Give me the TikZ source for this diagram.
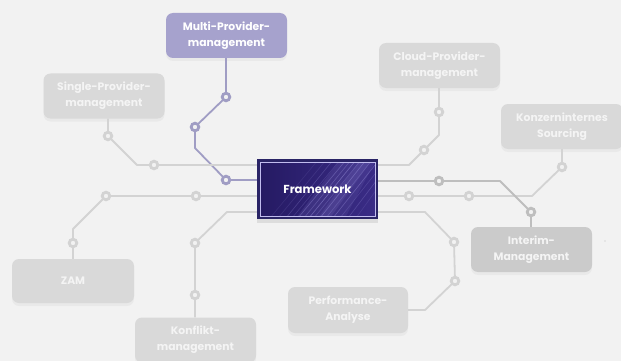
\documentclass[tikz,border=0pt]{standalone}
\usepackage{fontspec}
\setmainfont{Poppins}[BoldFont={Poppins Bold}]
\usetikzlibrary{shadows}
\definecolor{bg}{HTML}{F2F2F2}
\definecolor{grayline}{HTML}{D3D3D3}
\definecolor{graybox}{HTML}{D9D9D9}
\definecolor{graytext}{HTML}{F4F4F4}
\definecolor{darkline}{HTML}{BEBEBE}
\definecolor{darkbox}{HTML}{CBCBCB}
\definecolor{purpline}{HTML}{A09DC4}
\definecolor{purpbox}{HTML}{A6A2CD}
\definecolor{fwborder}{HTML}{2A2466}
\definecolor{fwleft}{HTML}{251A63}
\definecolor{fwright}{HTML}{3A2C86}
\definecolor{streak}{HTML}{A79FE8}
\tikzset{
  box/.style={rounded corners=7pt, minimum width=121pt, minimum height=45pt,
    fill=graybox, text=graytext, font=\bfseries\fontsize{10.8}{16}\selectfont,
    align=center, inner sep=0pt,
    drop shadow={opacity=0.07, shadow xshift=0pt, shadow yshift=-3pt}},
  conn/.style={line width=1.8pt, draw=grayline, line join=round},
  dot/.style={circle, draw=grayline, line width=2.8pt, fill=bg,
    minimum size=7.6pt, inner sep=0pt},
  fwtext/.style={text=white, font=\bfseries\fontsize{11.6}{13}\selectfont,
    minimum width=121pt, minimum height=60pt, inner sep=0pt},
}
\begin{document}
\begin{tikzpicture}[x=1pt,y=-1pt]
\fill[bg] (0,0) rectangle (621,361);
\useasboundingbox (0,0) rectangle (621,361);

% boxes
\node[box, fill=purpbox, text=white] (multi) at (226.5,35.5) {Multi-Provider-\\management};
\node[box] (single) at (104,96) {Single-Provider-\\management};
\node[box] (cloud) at (439.5,65.5) {Cloud-Provider-\\management};
\node[box, minimum width=122pt] (konz) at (562,126.5) {Konzerninternes\\Sourcing};
\node[box, fill=darkbox] (interim) at (531.5,249.5) {Interim-\\Management};
\node[box, minimum width=120pt, minimum height=46pt] (perf) at (348,310) {Performance-\\Analyse};
\node[box, minimum width=122pt, minimum height=44pt] (zam) at (73,281) {ZAM};
\node[box] (konf) at (195.5,340) {Konflikt-\\management};

% framework background
\fill[fwborder, drop shadow={opacity=0.18, shadow xshift=0pt, shadow yshift=-4pt}] (257,159) rectangle (378,219);
\begin{scope}
  \clip (260,162) rectangle (375,216);
  \shade[left color=fwleft, right color=fwright] (260,162) rectangle (375,216);
  \foreach \a/\b/\o in {270/318/0.12, 278/326/0.15, 286/333/0.25, 292/340/0.2, 298/346/0.35,
      304/351/0.3, 309/356/0.45, 314/361/0.25, 320/366/0.4, 326/372/0.25, 333/379/0.35,
      340/386/0.2, 348/392/0.25, 356/398/0.15}
    \draw[streak, opacity=\o, line width=0.6pt] (\a,218) -- (\b,160);
  \fill[streak, opacity=0.12] (296,218) -- (340,160) -- (372,160) -- (330,218) -- cycle;
  \fill[streak, opacity=0.10] (318,218) -- (360,160) -- (376,160) -- (345,218) -- cycle;
\end{scope}
\draw[streak!70!white, line width=0.8pt] (260,162) rectangle (375,216);
\node[fwtext] (fw) at (317.5,189) {Framework};

% connector points
\coordinate (sb) at (137,165);
\coordinate (mb1) at (195,148);
\coordinate (cb1) at (439,135);
\coordinate (cb2) at (409,165);
\coordinate (kb) at (532,196);
\coordinate (ib) at (500,181);
\coordinate (pb1) at (425,212);
\coordinate (pb2) at (425,310);
\coordinate (zb) at (73,229);
\coordinate (fb) at (227,212);

% dots
\node[dot, draw=purpline] (m1) at (226,97) {};
\node[dot, draw=purpline] (m2) at (195,127) {};
\node[dot, draw=purpline] (m3) at (226,180) {};
\node[dot] (s1) at (108,136) {};
\node[dot] (s2) at (154,165) {};
\node[dot] (c1) at (439,112) {};
\node[dot] (c2) at (424,150) {};
\node[dot] (k1) at (562,167) {};
\node[dot] (k2) at (469,196) {};
\node[dot] (k3) at (409,196) {};
\node[dot, draw=darkline] (i1) at (439,181) {};
\node[dot, draw=darkline] (i2) at (531,212) {};
\node[dot] (p1) at (454,242) {};
\node[dot] (p2) at (455,281) {};
\node[dot] (z1) at (196,196) {};
\node[dot] (z2) at (106,196) {};
\node[dot] (z3) at (73,243) {};
\node[dot] (f1) at (195,243) {};
\node[dot] (f2) at (195,295) {};

% connectors
\draw[conn, draw=purpline] (multi.south -| m1) -- (m1) -- (m2) -- (mb1) -- (m3) -- (fw.west |- m3);
\draw[conn] (single.south -| s1) -- (s1) -- (sb) -- (s2) -- (fw.west |- s2);
\draw[conn] (cloud.south -| c1) -- (c1) -- (cb1) -- (c2) -- (cb2) -- (fw.east |- cb2);
\draw[conn] (konz.south -| k1) -- (k1) -- (kb) -- (k2) -- (k3) -- (fw.east |- k3);
\draw[conn, draw=darkline] (fw.east |- i1) -- (i1) -- (ib) -- (i2) -- (interim.north -| i2);
\draw[conn] (fw.east |- pb1) -- (pb1) -- (p1) -- (p2) -- (pb2) -- (perf.east |- pb2);
\draw[conn] (fw.west |- z1) -- (z1) -- (z2) -- (zb) -- (z3) -- (zam.north -| z3);
\draw[conn] (fw.west |- fb) -- (fb) -- (f1) -- (f2) -- (konf.north -| f2);

\fill[graybox] (605,241) circle (0.9pt);
\end{tikzpicture}
\end{document}
